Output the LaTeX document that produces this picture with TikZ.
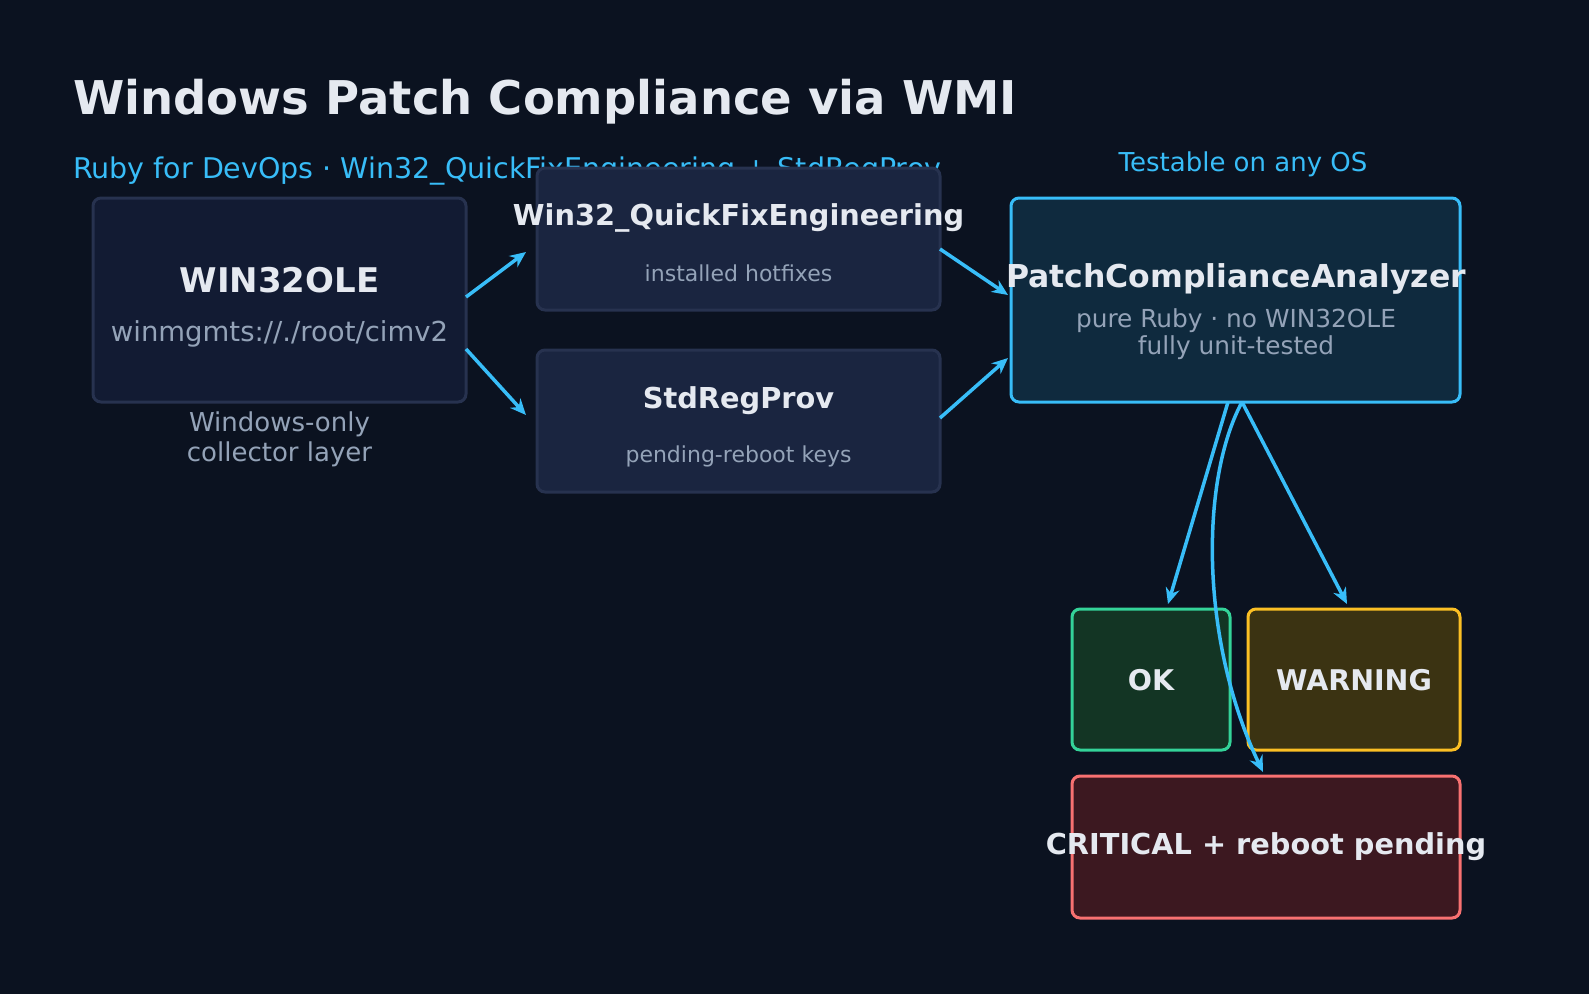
\documentclass[tikz,border=0pt]{standalone}
\usepackage{fontspec}
\setmainfont{DejaVu Sans}
\usetikzlibrary{arrows.meta,positioning}
\definecolor{bg}{HTML}{0B1220}
\definecolor{txt}{HTML}{E5E9F0}
\definecolor{mut}{HTML}{94A3B8}
\definecolor{sky}{HTML}{38BDF8}
\definecolor{olefill}{HTML}{121B33}
\definecolor{edgegray}{HTML}{27324F}
\definecolor{wmifill}{HTML}{1A2540}
\definecolor{anfill}{HTML}{0F2A3E}
\definecolor{okfill}{HTML}{133524}
\definecolor{okline}{HTML}{34D399}
\definecolor{warnfill}{HTML}{3B3312}
\definecolor{warnline}{HTML}{FBBF24}
\definecolor{critfill}{HTML}{3C1820}
\definecolor{critline}{HTML}{F87171}
\newcommand{\fs}[1]{\fontsize{#1}{#1}\selectfont}
\tikzset{
  card/.style={rounded corners=8pt, line width=3pt},
  flow/.style={-{Stealth[length=16pt,width=14pt]}, sky, line width=3.5pt},
}
\begin{document}
\begin{tikzpicture}[x=1pt,y=-1pt]
\useasboundingbox (0,0) rectangle (1589,994);
\fill[bg] (0,0) rectangle (1589,994);
% titles
\node[anchor=west, inner sep=0pt, text=txt, font=\fs{46.5}\bfseries] (title) at (73,102) {Windows Patch Compliance via WMI};
\node[anchor=west, inner sep=0pt, text=sky, font=\fs{28.5}] (sub) at (73,171) {Ruby for DevOps · Win32\_QuickFixEngineering + StdRegProv};
% boxes
\draw[card, fill=olefill, draw=edgegray] (93,198) rectangle (466,402);
\node[text=txt, font=\fs{34}\bfseries] (ole) at (279.5,280) {WIN32OLE};
\node[text=mut, font=\fs{27.5}] (olesub) at (279.5,334) {winmgmts://./root/cimv2};
\node[text=mut, font=\fs{26}, align=center] (olenote) at (279.5,439) {Windows-only\\[4pt]collector layer};
\draw[card, fill=wmifill, draw=edgegray] (537,168) rectangle (940,310);
\node[text=txt, font=\fs{28.8}\bfseries] (qfe) at (738.5,218) {Win32\_QuickFixEngineering};
\node[text=mut, font=\fs{22}] (qfesub) at (738.5,273) {installed hotfixes};
\draw[card, fill=wmifill, draw=edgegray] (537,350) rectangle (940,492);
\node[text=txt, font=\fs{28.8}\bfseries] (reg) at (738.5,401) {StdRegProv};
\node[text=mut, font=\fs{22}] (regsub) at (738.5,456) {pending-reboot keys};
\draw[card, fill=anfill, draw=sky] (1011,198) rectangle (1460,402);
\node[text=sky, font=\fs{26}] (test) at (1243,164) {Testable on any OS};
\node[text=txt, font=\fs{31.5}\bfseries] (an) at (1236,279) {PatchComplianceAnalyzer};
\node[text=mut, font=\fs{24.8}, align=center] (ansub) at (1236,334) {pure Ruby · no WIN32OLE\\[2pt]fully unit-tested};
\draw[card, fill=okfill, draw=okline] (1072,609) rectangle (1230,750);
\node[text=txt, font=\fs{28.5}\bfseries] (ok) at (1151,680) {OK};
\draw[card, fill=warnfill, draw=warnline] (1248,609) rectangle (1460,750);
\node[text=txt, font=\fs{28.5}\bfseries] (warn) at (1354,680) {WARNING};
\draw[card, fill=critfill, draw=critline] (1072,776) rectangle (1460,918);
\node[text=txt, font=\fs{28.8}\bfseries] (crit) at (1266,847) {CRITICAL + reboot pending};
% connectors
\coordinate (oleA) at (466,297);
\coordinate (oleB) at (466,349);
\coordinate (qfeIn) at (526,252);
\coordinate (regIn) at (526,415);
\coordinate (qfeOut) at (940,249);
\coordinate (regOut) at (940,418);
\coordinate (anA) at (1008,295);
\coordinate (anB) at (1008,358);
\coordinate (anL) at (1228,402);
\coordinate (anR) at (1242,402);
\coordinate (okIn) at (1168,604);
\coordinate (warnIn) at (1347,604);
\coordinate (critIn) at (1263,772);
\draw[flow] (oleA) -- (qfeIn);
\draw[flow] (oleB) -- (regIn);
\draw[flow] (qfeOut) -- (anA);
\draw[flow] (regOut) -- (anB);
\draw[flow] (anL) -- (okIn);
\draw[flow] (anR) -- (warnIn);
\draw[flow] (anR) .. controls (1200,480) and (1200,640) .. (critIn);
\end{tikzpicture}
\end{document}
